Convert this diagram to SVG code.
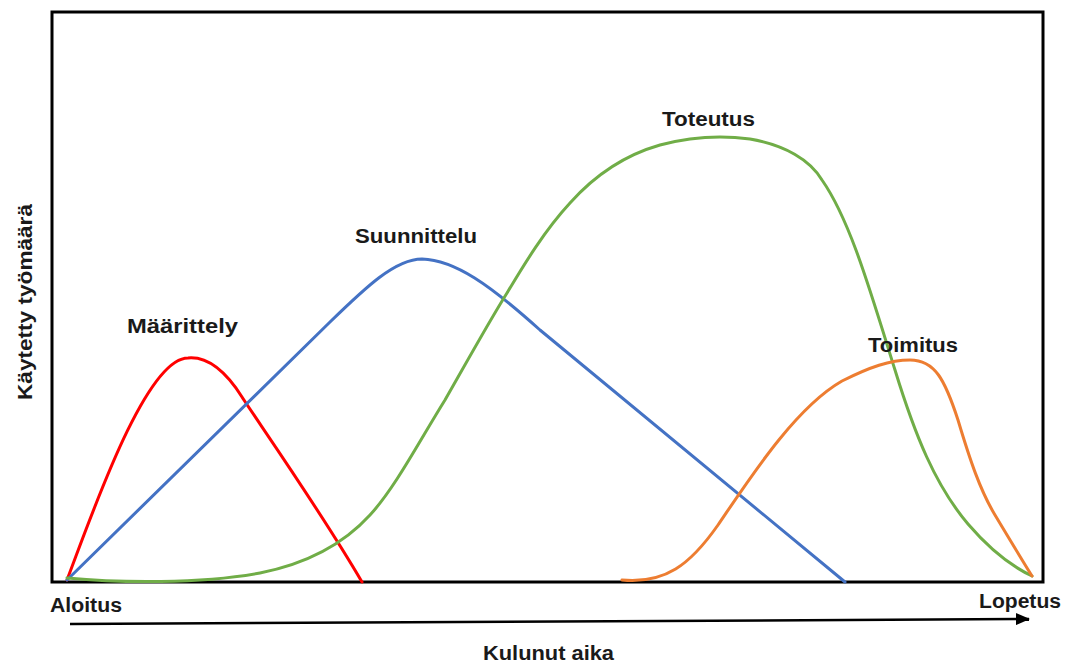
<svg xmlns="http://www.w3.org/2000/svg" width="1069" height="666" viewBox="0 0 1069 666">
<style>
.lbl{font-family:"Liberation Sans",Arial,sans-serif;font-weight:bold;font-size:20px;fill:#1a1a1a}
.crv{fill:none;stroke-width:3;stroke-linecap:round;stroke-linejoin:round}
</style>
<defs>
<marker id="ah" markerWidth="14" markerHeight="12" refX="13" refY="6" orient="auto" markerUnits="userSpaceOnUse">
<path d="M0,0 L14,6 L0,12 Z" fill="#000"/>
</marker>
</defs>
<rect width="1069" height="666" fill="#fff"/>
<g id="frame">
<rect x="52" y="12" width="991" height="570" fill="none" stroke="#000" stroke-width="3"/>
</g>
<g id="connectors">
<path id="maarittely-curve" class="crv" stroke="#FF0000" d="M67,580 C90,520 145,358 188,358 C210,356 228,375 242,397 C256,419 320,510 362,582"/>
<path id="suunnittelu-curve" class="crv" stroke="#4472C4" d="M67,580 L330,322 C365,288 395,259 422,259 C455,260 490,285 540,330 L845,582"/>
<path id="toteutus-curve" class="crv" stroke="#70AD47" d="M67,578 C120,583 200,584 260,573 C300,565 340,548 370,515 C395,488 420,440 445,400 C465,365 490,320 507,293 C525,263 545,230 570,203 C595,175 625,155 660,145 C690,137 720,135 750,139 C785,145 810,160 822,180 C850,220 870,290 895,370 C915,435 935,485 968,524 C992,552 1013,567 1032,576"/>
<path id="toimitus-curve" class="crv" stroke="#ED7D31" d="M622,580 C665,584 690,565 718,525 C750,478 795,408 842,381 C870,367 890,360 910,360 C935,360 945,380 958,420 C970,460 980,490 995,515 C1010,540 1022,560 1032,576"/>
<line id="time-axis" x1="70" y1="624" x2="1029" y2="619" stroke="#000" stroke-width="2.5" marker-end="url(#ah)"/>
</g>
<g id="label-maarittely"><text class="lbl" x="127" y="333" textLength="111" lengthAdjust="spacingAndGlyphs">Määrittely</text></g>
<g id="label-suunnittelu"><text class="lbl" x="355" y="243" textLength="122" lengthAdjust="spacingAndGlyphs">Suunnittelu</text></g>
<g id="label-toteutus"><text class="lbl" x="662" y="126" textLength="93" lengthAdjust="spacingAndGlyphs">Toteutus</text></g>
<g id="label-toimitus"><text class="lbl" x="868" y="352" textLength="90" lengthAdjust="spacingAndGlyphs">Toimitus</text></g>
<g id="label-aloitus"><text class="lbl" x="50" y="612" textLength="72" lengthAdjust="spacingAndGlyphs">Aloitus</text></g>
<g id="label-lopetus"><text class="lbl" x="979" y="608" textLength="82" lengthAdjust="spacingAndGlyphs">Lopetus</text></g>
<g id="label-kulunut"><text class="lbl" x="483" y="660" textLength="131" lengthAdjust="spacingAndGlyphs">Kulunut aika</text></g>
<g id="label-tyomaara"><text class="lbl" transform="translate(32,302) rotate(-90)" x="0" y="0" text-anchor="middle" textLength="196" lengthAdjust="spacingAndGlyphs">Käytetty työmäärä</text></g>
</svg>
